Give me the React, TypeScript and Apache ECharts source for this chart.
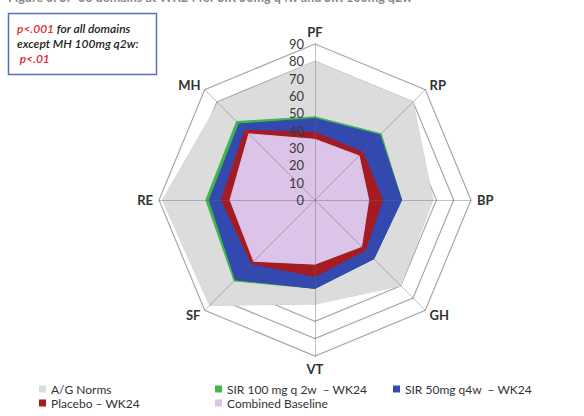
import { useEffect, useRef } from "react";
import * as echarts from "echarts";

// Radar domains in ECharts order (counter-clockwise from top)
const domains = ["PF", "MH", "RE", "SF", "VT", "GH", "BP", "RP"];
const scaleMax = 90;
const scaleStep = 10;

const seriesNames = [
  "A/G Norms",
  "SIR 100 mg q 2w  \u2013 WK24",
  "SIR 50mg q4w  \u2013 WK24",
  "Placebo \u2013 WK24",
  "Combined Baseline",
];
const agNorms = [80, 79, 88, 86, 60, 70, 68, 80];
const sir100 = [48, 64, 63, 66, 51, 48, 50, 54];
const sir50 = [47, 62, 61, 65, 51, 48, 50, 53];
const placebo = [39, 57, 54, 52, 44, 41, 39, 39];
const baseline = [35, 54, 49, 50, 37, 38, 31, 36];

const fillColors = ["#dcdcdc", "#3fb54a", "#3449b0", "#a51b22", "#dcc4e8"];
const lineColors = ["#d0d0d0", "#3fb54a", "#3449b0", "#a51b22", "#d8bce6"];

const titleText = "Figure 3: SF-36 domains at WK24 for SIR 50mg q4w and SIR 100mg q2w";
const noteLines = ["{r|p<.001} for all domains", "except MH 100mg q2w:", " {r|p<.01}"];

const FONT = "Lato, 'Open Sans', sans-serif";

const legendBase = {
  orient: "vertical",
  top: 383,
  height: 60,
  padding: 0,
  icon: "rect",
  itemWidth: 7,
  itemHeight: 7,
  itemGap: 2,
  textStyle: { fontSize: 12, color: "#333", fontFamily: FONT, lineHeight: 12 },
};

export default function App() {
  const ref = useRef<HTMLDivElement>(null);
  useEffect(() => {
    if (!ref.current) return;
    const chart = echarts.init(ref.current, undefined, { renderer: "svg" });
    const values = [agNorms, sir100, sir50, placebo, baseline];
    const indicator = domains.map((d) => ({ name: d, min: 0, max: scaleMax }));
    chart.setOption({
      animation: false,
      backgroundColor: "#ffffff",
      textStyle: { fontFamily: FONT },
      radar: [
        {
          center: [315, 200],
          radius: 156,
          startAngle: 90,
          splitNumber: scaleMax / scaleStep,
          shape: "polygon",
          indicator,
          nameGap: 6,
          axisName: { color: "#333", fontSize: 13, fontWeight: "bold", fontFamily: FONT },
          splitLine: { show: true, lineStyle: { color: "#a8a8a8", width: 1.2 } },
          splitArea: { show: false },
          axisLine: { show: false },
          axisTick: { show: false },
          axisLabel: { show: false },
        },
        {
          center: [315, 200],
          radius: 156,
          startAngle: 90,
          splitNumber: scaleMax / scaleStep,
          shape: "polygon",
          indicator,
          z: 5,
          axisName: { show: false },
          splitLine: { show: false },
          splitArea: { show: false },
          axisLine: { show: true, lineStyle: { color: "rgba(100,100,110,0.4)", width: 1 } },
          axisTick: { show: false },
          axisLabel: { show: false },
        },
      ],
      polar: { center: [315, 200], radius: 156 },
      angleAxis: { show: false, startAngle: 90, min: 0, max: 360 },
      radiusAxis: {
        min: 0,
        max: scaleMax,
        interval: scaleStep,
        z: 10,
        axisLine: { show: false },
        axisTick: { show: false },
        splitLine: { show: false },
        axisLabel: { color: "#3a3a3a", fontSize: 13, fontFamily: FONT, margin: 11 },
      },
      legend: [
        { ...legendBase, data: [seriesNames[0], seriesNames[3]], left: 39 },
        { ...legendBase, data: [seriesNames[1], seriesNames[4]], left: 215 },
        { ...legendBase, data: [seriesNames[2]], left: 393 },
      ],
      graphic: [
        {
          type: "text",
          left: 8,
          top: -9,
          style: { text: titleText, fill: "#8a8a8a", font: `bold 12.5px ${FONT}` },
        },
        {
          type: "rect",
          shape: { x: 8.5, y: 13.5, width: 148, height: 61 },
          style: { fill: "#ffffff", stroke: "#5470c6", lineWidth: 1.5 },
        },
        {
          type: "text",
          x: 17,
          y: 21,
          style: {
            text: noteLines.join("\n"),
            fill: "#222",
            fontSize: 12,
            fontStyle: "italic",
            fontWeight: 600,
            fontFamily: FONT,
            lineHeight: 15,
            rich: {
              r: { fill: "#e0282e", fontSize: 12, fontStyle: "italic", fontWeight: 600, fontFamily: FONT, lineHeight: 15 },
            },
          },
        },
      ],
      series: [
        {
          type: "radar",
          radarIndex: 0,
          symbol: "none",
          z: 2,
          data: seriesNames.map((n, i) => ({
            name: n,
            value: values[i],
            itemStyle: { color: fillColors[i] },
            lineStyle: { color: lineColors[i], width: 1 },
            areaStyle: { color: fillColors[i], opacity: 1 },
          })),
        },
      ],
    });
    return () => chart.dispose();
  }, []);
  return (
    <div
      ref={ref}
      style={{ position: "absolute", left: 0, top: 0, width: 584, height: 416 }}
    />
  );
}
